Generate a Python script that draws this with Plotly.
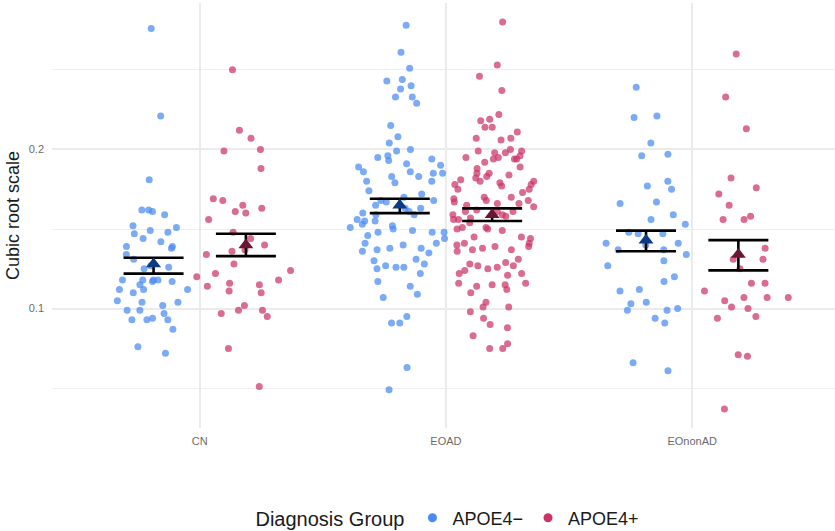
import plotly.graph_objects as go

groups = ["CN", "EOAD", "EOnonAD"]
series_names = ["APOE4−", "APOE4+"]

# APOE4- values (cubic root scale)
cn_neg = [0.276, 0.221, 0.181, 0.162, 0.162, 0.161, 0.159, 0.152, 0.149, 0.147, 0.144, 0.148,
          0.142, 0.138, 0.139, 0.139, 0.131, 0.127, 0.125, 0.126, 0.117, 0.117, 0.118, 0.118,
          0.118, 0.118, 0.112, 0.112, 0.115, 0.112, 0.134, 0.151, 0.110, 0.104, 0.102, 0.105,
          0.104, 0.099, 0.099, 0.097, 0.094, 0.093, 0.093, 0.093, 0.087, 0.076, 0.072]
eoad_neg = [0.278, 0.261, 0.251, 0.244, 0.243, 0.240, 0.233, 0.238, 0.233, 0.229, 0.215, 0.208,
            0.204, 0.200, 0.199, 0.194, 0.195, 0.196, 0.193, 0.191, 0.190, 0.189, 0.186, 0.185,
            0.185, 0.183, 0.183, 0.186, 0.180, 0.180, 0.179, 0.174, 0.172, 0.170, 0.167, 0.165,
            0.168, 0.168, 0.163, 0.163, 0.161, 0.160, 0.159, 0.159, 0.155, 0.156, 0.155, 0.153,
            0.151, 0.152, 0.150, 0.149, 0.148, 0.148, 0.148, 0.146, 0.144, 0.141, 0.141, 0.136,
            0.140, 0.138, 0.137, 0.138, 0.135, 0.131, 0.128, 0.127, 0.125, 0.126, 0.126, 0.122,
            0.117, 0.114, 0.109, 0.107, 0.091, 0.091, 0.095, 0.063, 0.049, 0.130]
eononad_neg = [0.239, 0.221, 0.220, 0.204, 0.196, 0.197, 0.180, 0.175, 0.177, 0.167, 0.166,
               0.159, 0.156, 0.153, 0.147, 0.148, 0.147, 0.141, 0.140, 0.137, 0.137, 0.134,
               0.141, 0.130, 0.127, 0.120, 0.117, 0.112, 0.111, 0.103, 0.104, 0.099, 0.100,
               0.099, 0.094, 0.091, 0.066, 0.061]

# APOE4+ values (cubic root scale)
cn_pos = [0.250, 0.212, 0.207, 0.200, 0.199, 0.188, 0.169, 0.168, 0.165, 0.163, 0.161, 0.160,
          0.156, 0.148, 0.144, 0.140, 0.137, 0.134, 0.136, 0.128, 0.124, 0.122, 0.120, 0.118,
          0.116, 0.115, 0.114, 0.111, 0.110, 0.102, 0.099, 0.099, 0.097, 0.095, 0.075, 0.051]
eoad_pos = [0.280, 0.253, 0.246, 0.237, 0.219, 0.222, 0.218, 0.214, 0.214, 0.211, 0.207, 0.207,
            0.206, 0.200, 0.199, 0.199, 0.196, 0.198, 0.198, 0.195, 0.194, 0.195, 0.194, 0.194,
            0.192, 0.189, 0.188, 0.184, 0.185, 0.185, 0.182, 0.183, 0.181, 0.180, 0.178, 0.178,
            0.180, 0.179, 0.175, 0.177, 0.175, 0.173, 0.170, 0.168, 0.166, 0.166, 0.167, 0.169,
            0.168, 0.170, 0.165, 0.159, 0.161, 0.162, 0.164, 0.158, 0.157, 0.154, 0.156, 0.156,
            0.161, 0.161, 0.159, 0.149, 0.150, 0.150, 0.151, 0.151, 0.145, 0.145, 0.139, 0.141,
            0.144, 0.141, 0.139, 0.138, 0.137, 0.140, 0.137, 0.136, 0.131, 0.124, 0.128, 0.129,
            0.126, 0.127, 0.125, 0.127, 0.122, 0.122, 0.121, 0.114, 0.110, 0.116, 0.116, 0.112,
            0.115, 0.115, 0.101, 0.098, 0.101, 0.104, 0.094, 0.090, 0.088, 0.083, 0.078, 0.075,
            0.075]
eononad_pos = [0.260, 0.233, 0.213, 0.182, 0.176, 0.172, 0.165, 0.156, 0.158, 0.156, 0.138,
               0.131, 0.131, 0.125, 0.116, 0.116, 0.111, 0.107, 0.107, 0.107, 0.105, 0.100,
               0.101, 0.094, 0.095, 0.071, 0.070, 0.037]

# group means and error bar limits
mean_neg = [0.128, 0.165, 0.143]
low_neg = [0.122, 0.160, 0.136]
high_neg = [0.132, 0.169, 0.149]
mean_pos = [0.140, 0.159, 0.134]
low_pos = [0.133, 0.155, 0.124]
high_pos = [0.147, 0.163, 0.143]

point_colors = ["#4A8BF2", "#CC3366"]
mean_colors = ["#0B3B82", "#6B1535"]

values = {
    0: [cn_neg, eoad_neg, eononad_neg],
    1: [cn_pos, eoad_pos, eononad_pos],
}
stats = {
    0: (mean_neg, low_neg, high_neg),
    1: (mean_pos, low_pos, high_pos),
}

fig = go.Figure()

# jittered points (box traces with hidden boxes)
pointpos_for = {0: 0.1667, 1: -0.1667}
for k in (0, 1):
    xs, ys = [], []
    for g, arr in zip(groups, values[k]):
        xs += [g] * len(arr)
        ys += arr
    fig.add_trace(go.Box(
        x=xs, y=ys, name=series_names[k], offsetgroup=str(k),
        boxpoints="all", jitter=0.95, pointpos=pointpos_for[k],
        fillcolor="rgba(0,0,0,0)", line=dict(width=0, color="rgba(0,0,0,0)"),
        marker=dict(size=7, color=point_colors[k], opacity=0.72, line=dict(width=0)),
        showlegend=False, hoverinfo="y",
    ))

# means with error bars
for k in (0, 1):
    m, lo, hi = stats[k]
    fig.add_trace(go.Scatter(
        x=groups, y=m, mode="markers", offsetgroup=str(k),
        marker=dict(symbol="triangle-up", size=13, color=mean_colors[k]),
        error_y=dict(type="data", symmetric=False,
                     array=[h - v for h, v in zip(hi, m)],
                     arrayminus=[v - l for v, l in zip(m, lo)],
                     color="black", thickness=2.6, width=30),
        showlegend=False,
    ))

# legend entries
for k in (0, 1):
    fig.add_trace(go.Scatter(
        x=[None], y=[None], mode="markers", name=series_names[k],
        marker=dict(symbol="circle", size=9, color=point_colors[k]),
        showlegend=True,
    ))

fig.update_layout(
    width=835, height=531,
    margin=dict(l=52, r=0, t=3, b=103, autoexpand=False),
    plot_bgcolor="white", paper_bgcolor="white",
    boxmode="group", boxgap=0.1, boxgroupgap=0,
    scattermode="group", scattergap=0.25,
    font=dict(family="Liberation Sans, Arial, sans-serif", color="#1a1a1a"),
    xaxis=dict(
        categoryorder="array", categoryarray=groups,
        range=[-0.6, 2.58], automargin=False,
        showgrid=True, gridcolor="#EBEBEB", gridwidth=1.6,
        zeroline=False, showline=False, ticks="", ticklabelstandoff=5,
        tickfont=dict(size=11, color="#6b6b6b"),
    ),
    yaxis=dict(
        range=[0.025, 0.292], automargin=False,
        tick0=0, dtick=0.1,
        showgrid=True, gridcolor="#EBEBEB", gridwidth=1.6,
        minor=dict(dtick=0.05, tick0=0, showgrid=True, gridcolor="#EEEEEE", gridwidth=1.2),
        zeroline=False, showline=False, ticks="", ticklabelstandoff=7,
        tickfont=dict(size=11, color="#6b6b6b"),
        title=dict(text="Cubic root scale", font=dict(size=18, color="#1a1a1a"), standoff=4),
    ),
    legend=dict(
        orientation="h", x=0.507, xanchor="center", y=-0.212, yanchor="middle",
        title=dict(text="Diagnosis Group", side="left", font=dict(size=20)),
        font=dict(size=18), itemwidth=30,
    ),
)

fig.write_html(
    "out.html",
    config={"displayModeBar": False},
    post_script="document.body.style.margin='0px';document.body.style.overflow='hidden';",
)
